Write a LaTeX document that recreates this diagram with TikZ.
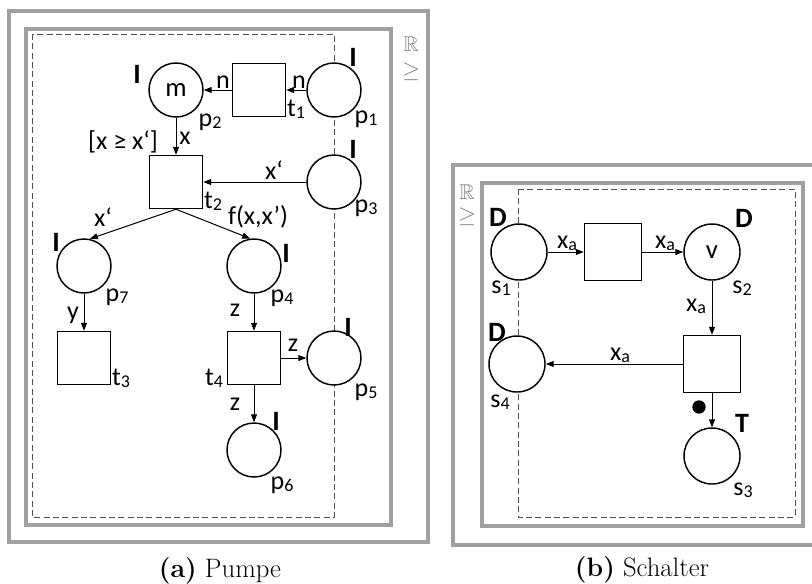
\documentclass[tikz,border=0pt]{standalone}
\usepackage{fontspec}
\usepackage{amssymb}
\usetikzlibrary{arrows.meta}
\newfontfamily\lblf{Carlito}
\definecolor{framegray}{RGB}{160,160,160}
\definecolor{dashgray}{RGB}{80,80,80}
\definecolor{domgray}{RGB}{130,130,130}
\newcommand\ix[1]{\raisebox{-0.15ex}{\fontsize{13.5}{13.5}\selectfont #1}}
\begin{document}
\begin{tikzpicture}[x=0.75pt,y=-0.75pt,
 place/.style={circle,draw,fill=white,line width=1.1pt,minimum size=40.5pt,inner sep=0pt,font=\lblf\fontsize{20}{20}\selectfont},
 trans/.style={rectangle,draw,fill=white,line width=1.1pt,minimum size=39.75pt,inner sep=0pt},
 bplace/.style={place,minimum size=42pt},
 btrans/.style={trans,minimum size=42.75pt},
 lbl/.style={inner sep=0pt,font=\lblf\fontsize{19.5}{19.5}\selectfont},
 tok/.style={inner sep=0pt,font=\lblf\bfseries\fontsize{21}{21}\selectfont},
 arc/.style={-{Triangle[length=6pt,width=4.5pt]},line width=0.75pt},
 frame/.style={draw=framegray,line width=3pt},
 bound/.style={draw=dashgray,line width=0.75pt,dash pattern=on 4.5pt off 2.5pt},
 dom/.style={inner sep=0pt,text=domgray,font=\fontsize{16}{16}\selectfont},
 captxt/.style={inner sep=0pt,font=\fontsize{20}{24}\selectfont}
]
\useasboundingbox (0,0) rectangle (812,583);
% ---------- (a) Pumpe ----------
\draw[frame] (9,11) rectangle (428,542);
\draw[frame] (26,29) rectangle (391,525);
\draw[bound] (32,34) rectangle (334,517);
\node[dom] (ra) at (411,44) {$\mathbb{R}$};
\node[dom] (ga) at (411,72) {$\geq$};

\node[place] (p2) at (176,90) {m};
\node[trans] (t1) at (259,90) {};
\node[place] (p1) at (334,90) {};
\node[trans] (t2) at (176,182) {};
\node[place] (p3) at (334,182) {};
\node[place] (p7) at (84,266) {};
\node[place] (p4) at (254,266) {};
\node[trans] (t3) at (84,358) {};
\node[trans] (t4) at (254,358) {};
\node[place] (p5) at (334,358) {};
\node[place] (p6) at (254,450) {};

\draw[arc] (p1) -- (t1);
\draw[arc] (t1) -- (p2);
\draw[arc] (p2) -- (t2);
\draw[arc] (p3) -- (t2);
\draw[arc] (t2.south) -- (p7.78);
\draw[arc] (t2.south) -- (p4.98);
\draw[arc] (p7) -- (t3);
\draw[arc] (p4) -- (t4);
\draw[arc] (t4) -- (p5);
\draw[arc] (t4) -- (p6);

\node[tok] (i2) at (137,74) {I};
\node[tok] (i1) at (353,57) {I};
\node[tok] (i3) at (353,149) {I};
\node[tok] (i7) at (56,242) {I};
\node[tok] (i4) at (286,253) {I};
\node[tok] (i5) at (348,327) {I};
\node[tok] (i6) at (276,421) {I};

\node[lbl] (n1) at (223,82) {n};
\node[lbl] (n2) at (299,82) {n};
\node[lbl] (lp2) at (210,122) {p\ix{2}};
\node[lbl] (lt1) at (296,109) {t\ix{1}};
\node[lbl] (lp1) at (366,119) {p\ix{1}};
\node[lbl] (grd) at (123,142) {[x ≥ x‘]};
\node[lbl] (ax) at (185,138) {x};
\node[lbl] (ax3) at (274,170) {x‘};
\node[lbl] (lt2) at (213,201) {t\ix{2}};
\node[lbl] (lp3) at (366,208) {p\ix{3}};
\node[lbl] (ax7) at (103,217) {x‘};
\node[lbl] (af) at (258,217) {f(x,x’)};
\node[lbl] (lp7) at (117,297) {p\ix{7}};
\node[lbl] (lp4) at (282,298) {p\ix{4}};
\node[lbl] (ay) at (73,315) {y};
\node[lbl] (az1) at (235,310) {z};
\node[lbl] (lt3) at (121,378) {t\ix{3}};
\node[lbl] (lt4) at (214,378) {t\ix{4}};
\node[lbl] (az2) at (293,345) {z};
\node[lbl] (lp5) at (366,392) {p\ix{5}};
\node[lbl] (az3) at (235,404) {z};
\node[lbl] (lp6) at (282,485) {p\ix{6}};

\node[captxt] (capa) at (220,571) {\textbf{(a)} Pumpe};

% ---------- (b) Schalter ----------
\draw[frame] (816,165) -- (453,165) -- (453,545) -- (816,545);
\draw[frame] (482,183) rectangle (803,526);
\draw[bound] (518,189) rectangle (795,517);
\node[dom] (rb) at (467,192) {$\mathbb{R}$};
\node[dom] (gb) at (467,217) {$\geq$};

\node[bplace] (s1) at (519,252) {};
\node[btrans] (q1) at (613,252) {};
\node[bplace] (s2) at (712,252) {v};
\node[btrans] (q2) at (712,364) {};
\node[bplace] (s4) at (517,364) {};
\node[bplace] (s3) at (712,456) {};

\draw[arc] (s1) -- (q1);
\draw[arc] (q1) -- (s2);
\draw[arc] (s2) -- (q2);
\draw[arc] (q2) -- (s4);
\draw[arc] (q2) -- (s3);
\fill (699,407) circle[radius=5pt];

\node[tok] (d1) at (498,217) {D};
\node[tok] (d2) at (744,218) {D};
\node[tok] (d4) at (497,332) {D};
\node[tok] (tt) at (742,423) {T};
\node[lbl] (xa1) at (567,243) {x\ix{a}};
\node[lbl] (xa2) at (665,243) {x\ix{a}};
\node[lbl] (xa3) at (696,306) {x\ix{a}};
\node[lbl] (xa4) at (620,355) {x\ix{a}};
\node[lbl] (ls1) at (501,288) {s\ix{1}};
\node[lbl] (ls2) at (742,288) {s\ix{2}};
\node[lbl] (ls4) at (500,402) {s\ix{4}};
\node[lbl] (ls3) at (743,490) {s\ix{3}};

\node[captxt] (capb) at (642,570) {\textbf{(b)} Schalter};
\end{tikzpicture}
\end{document}
